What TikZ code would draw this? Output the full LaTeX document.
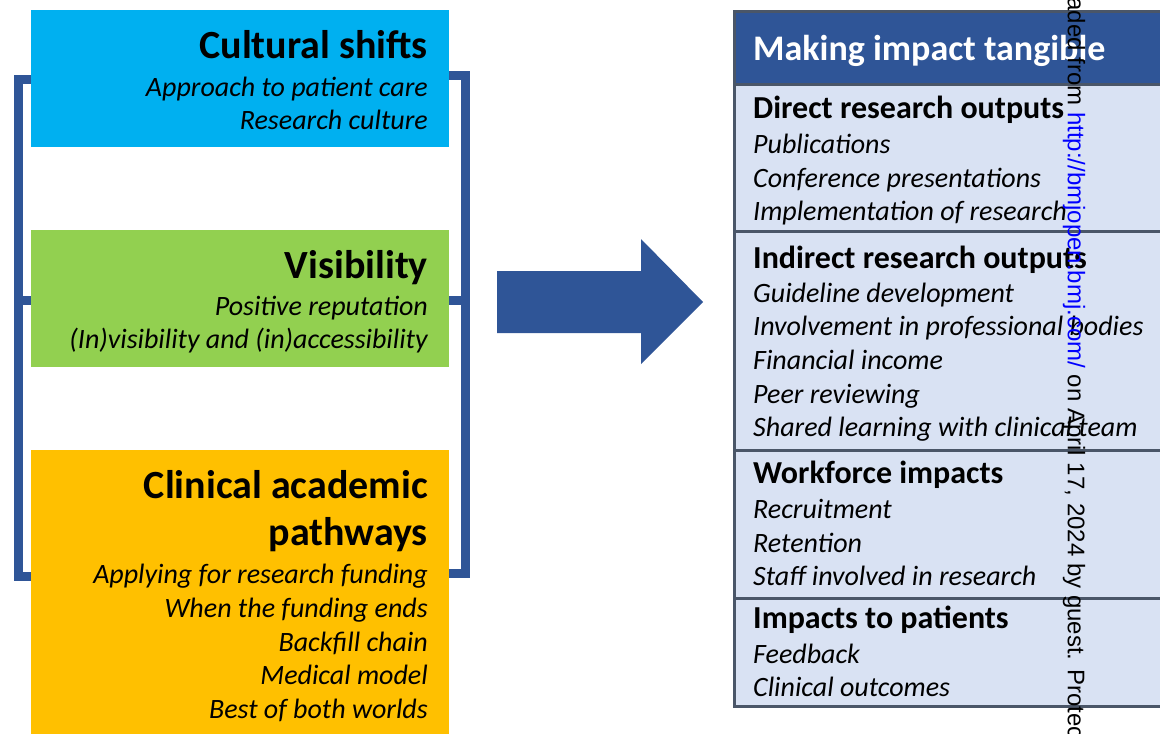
\documentclass[tikz,border=0pt]{standalone}
\usepackage{fontspec}
\setmainfont{Carlito}
\setsansfont{Liberation Sans}
\definecolor{navy}{HTML}{2F5597}
\definecolor{culture}{HTML}{00B0F0}
\definecolor{visib}{HTML}{92D050}
\definecolor{pathw}{HTML}{FFC000}
\definecolor{rowfill}{HTML}{D9E2F3}
\definecolor{rule}{HTML}{4A5668}
\tikzset{
  box/.style={inner sep=0, anchor=north west, draw=none},
  lhead/.style={inner sep=0, anchor=base east, font=\fontsize{40}{48}\selectfont\bfseries},
  litem/.style={inner sep=0, anchor=base east, font=\fontsize{28}{34}\selectfont\itshape},
  ttitle/.style={inner sep=0, anchor=base west, text=white, font=\fontsize{36}{43}\selectfont\bfseries},
  thead/.style={inner sep=0, anchor=base west, font=\fontsize{32}{38}\selectfont\bfseries},
  titem/.style={inner sep=0, anchor=base west, font=\fontsize{28}{34}\selectfont\itshape},
  bracket/.style={draw=navy, line width=9pt, line join=miter},
  rowbox/.style={box, fill=rowfill, draw=rule, line width=2.5pt, minimum width=500pt},
}
\begin{document}
\begin{tikzpicture}[x=1pt,y=-1pt]
\useasboundingbox (0,0) rectangle (1160,734);
\begin{scope}
\clip (0,0) rectangle (1160,734);

% brackets joining the three themes
\draw[bracket] (31,79) -| (18,576) -- (31,576);
\draw[bracket] (18,300) -- (31,300);
\draw[bracket] (449,75) -| (465,573) -- (449,573);
\draw[bracket] (465,300) -- (449,300);

% theme boxes
\node[box, fill=culture, minimum width=418pt, minimum height=137pt] (cult) at (31,10) {};
\node[box, fill=visib, minimum width=418pt, minimum height=137pt] (vis) at (31,230) {};
\node[box, fill=pathw, minimum width=418pt, minimum height=300pt] (path) at (31,450) {};

\node[lhead] (c0) at (428,58) {Cultural shifts};
\node[litem] (c1) at (428,96) {Approach to patient care};
\node[litem] (c2) at (428,129) {Research culture};

\node[lhead] (v0) at (428,278) {Visibility};
\node[litem] (v1) at (428,315) {Positive reputation};
\node[litem] (v2) at (428,348) {(In)visibility and (in)accessibility};

\node[lhead] (p0) at (428,498) {Clinical academic};
\node[lhead] (p1) at (428,545) {pathways};
\node[litem] (p2) at (428,583) {Applying for research funding};
\node[litem] (p3) at (428,617) {When the funding ends};
\node[litem] (p4) at (428,651) {Backfill chain};
\node[litem] (p5) at (428,684) {Medical model};
\node[litem] (p6) at (428,718) {Best of both worlds};

% block arrow
\fill[navy] (497,271) -- (641,271) -- (641,239) -- (703,302) -- (641,364)
  -- (641,333) -- (497,333) -- cycle;

% impact table
\node[box, fill=navy, draw=rule, line width=2.5pt, minimum width=500pt, minimum height=73pt] (hdr) at (733,10) {};
\node[rowbox, minimum height=147pt] (r1) at (733,83) {};
\node[rowbox, minimum height=219pt] (r2) at (733,230) {};
\node[rowbox, minimum height=148pt] (r3) at (733,449) {};
\node[rowbox, minimum height=108pt] (r4) at (733,597) {};

\node[ttitle] (t0) at (753,60) {Making impact tangible};

\node[thead] (d0) at (753,118) {Direct research outputs};
\node[titem] (d1) at (753,153) {Publications};
\node[titem] (d2) at (753,187) {Conference presentations};
\node[titem] (d3) at (753,220) {Implementation of research};

\node[thead] (i0) at (753,268) {Indirect research outputs};
\node[titem] (i1) at (753,302) {Guideline development};
\node[titem] (i2) at (753,335) {Involvement in professional bodies};
\node[titem] (i3) at (753,369) {Financial income};
\node[titem] (i4) at (753,403) {Peer reviewing};
\node[titem] (i5) at (753,436) {Shared learning with clinical team};

\node[thead] (w0) at (753,483) {Workforce impacts};
\node[titem] (w1) at (753,518) {Recruitment};
\node[titem] (w2) at (753,552) {Retention};
\node[titem] (w3) at (753,585) {Staff involved in research};

\node[thead] (m0) at (753,628) {Impacts to patients};
\node[titem] (m1) at (753,663) {Feedback};
\node[titem] (m2) at (753,696) {Clinical outcomes};

% vertical download stamp
\node[rotate=-90, anchor=west, inner sep=0, font=\sffamily\fontsize{24}{28}\selectfont] (stamp) at (1074,112)
  {\llap{Downloaded from }\textcolor{blue}{http://bmjopen.bmj.com/} on April 17, 2024 by guest. Protected by copyright.};
\end{scope}
\end{tikzpicture}
\end{document}
